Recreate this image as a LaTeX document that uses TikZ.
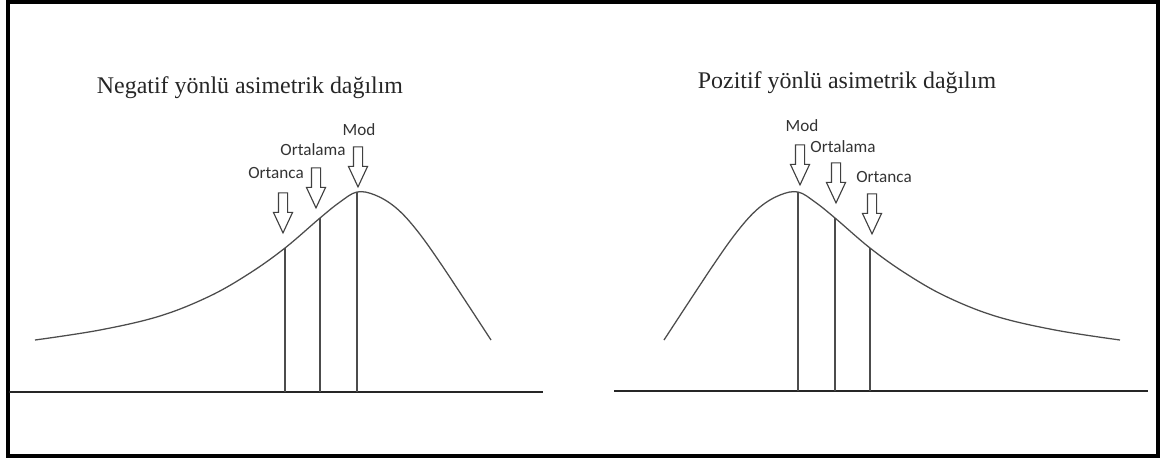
\documentclass[tikz,border=0pt]{standalone}
\usepackage{fontspec}
\setmainfont{Liberation Serif}
\newfontfamily\labelfont{Carlito}
\usetikzlibrary{shapes.arrows,positioning}

\begin{document}
\begin{tikzpicture}[x=0.025cm,y=-0.025cm,
  title/.style={font=\fontsize{17}{20}\selectfont, text=black!85},
  lbl/.style={font=\labelfont\fontsize{12.2}{14}\selectfont, text=black!80, inner sep=0pt},
  downarrow/.style={single arrow, draw=black!75, line width=0.8pt, fill=white,
    shape border rotate=270, inner sep=0.1cm, minimum height=1cm, minimum width=0.45cm,
    single arrow head extend=0.125cm, single arrow tip angle=50},
  curve/.style={draw=black!70, line width=0.9pt},
  axis/.style={draw=black!85, line width=2pt}]
\useasboundingbox (0,0) rectangle (1163,461);
% frame
\draw[line width=2.8pt] (8,2) rectangle (1158,456);
% titles
\node[title] (tneg) at (250,88) {Negatif yönlü asimetrik dağılım};
\node[title] (tpos) at (847,83) {Pozitif yönlü asimetrik dağılım};
% axes
\draw[axis] (9,392) -- (543,392);
\draw[axis] (614,391) -- (1148,391);
% left: negatively skewed curve
\draw[curve] plot[smooth, tension=0.6] coordinates {(35,340) (100,330) (160,316) (210,296) (250,273)
  (285,248) (320,218) (340,202) (357,192) (375,195) (395,207) (415,228) (441,264) (491,340)};
\draw[curve] (285,392) -- (285,248);
\draw[curve] (320,392) -- (320,218);
\draw[curve] (357,392) -- (357,192);
% right: positively skewed curve (mirror)
\draw[curve] plot[smooth, tension=0.6] coordinates {(664,340) (714,264) (740,228) (760,207) (780,195)
  (798,192) (815,202) (835,218) (870,248) (905,273) (945,296) (995,316) (1055,330) (1120,340)};
\draw[curve] (798,391) -- (798,192);
\draw[curve] (835,391) -- (835,218);
\draw[curve] (870,391) -- (870,248);
% arrows and labels, left
\node[downarrow] (aNmod) at (358,162) {};
\node[downarrow] (aNort) at (316,183) {};
\node[downarrow] (aNmed) at (283,208) {};
\node[lbl] (lNmod) at (359,130) {Mod};
\node[lbl] (lNort) at (313,150) {Ortalama};
\node[lbl] (lNmed) at (276,173) {Ortanca};
% arrows and labels, right
\node[downarrow] (aPmod) at (800,160) {};
\node[downarrow] (aPort) at (836,178) {};
\node[downarrow] (aPmed) at (872,209) {};
\node[lbl] (lPmod) at (802,126) {Mod};
\node[lbl] (lPort) at (843,147) {Ortalama};
\node[lbl] (lPmed) at (884,177) {Ortanca};
\end{tikzpicture}
\end{document}
